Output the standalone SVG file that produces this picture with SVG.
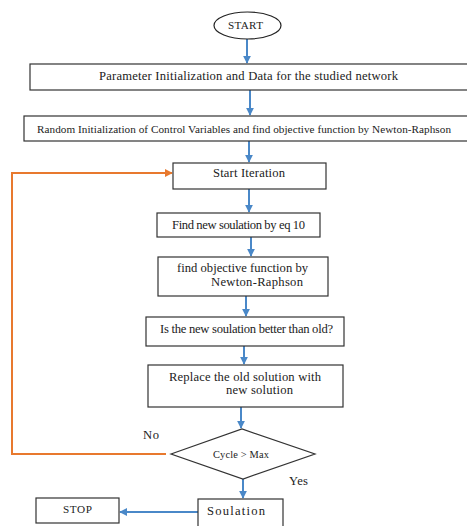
<svg xmlns="http://www.w3.org/2000/svg" width="467" height="526" viewBox="0 0 467 526">
<style>
.box{fill:#fff;stroke:#333;stroke-width:1.2}
.t{font-family:"Liberation Serif","DejaVu Serif",serif;font-size:12.6px;fill:#222}
.s{font-size:11.2px}
.b{stroke:#4a88c8;stroke-width:2;fill:none}
.o{stroke:#e8792e;stroke-width:2;fill:none}
</style>
<defs>
<marker id="ab" viewBox="0 0 10 10" refX="9" refY="5" markerWidth="4" markerHeight="4" orient="auto"><path d="M0,0 L10,5 L0,10 z" fill="#4a88c8"/></marker>
<marker id="ao" viewBox="0 0 10 10" refX="9" refY="5" markerWidth="4" markerHeight="4" orient="auto"><path d="M0,0 L10,5 L0,10 z" fill="#e8792e"/></marker>
</defs>
<rect width="467" height="526" fill="#fff"/>
<g id="connectors">
<line class="b" x1="247" y1="39" x2="247" y2="63" marker-end="url(#ab)"/>
<line class="b" x1="250" y1="90" x2="250" y2="115" marker-end="url(#ab)"/>
<line class="b" x1="249" y1="141" x2="249" y2="162" marker-end="url(#ab)"/>
<line class="b" x1="249" y1="189" x2="249" y2="212" marker-end="url(#ab)"/>
<line class="b" x1="251" y1="237" x2="251" y2="256" marker-end="url(#ab)"/>
<line class="b" x1="246" y1="296" x2="246" y2="316" marker-end="url(#ab)"/>
<line class="b" x1="244" y1="346" x2="244" y2="364" marker-end="url(#ab)"/>
<line class="b" x1="241" y1="407" x2="241" y2="428" marker-end="url(#ab)"/>
<line class="b" x1="243" y1="479" x2="243" y2="498" marker-end="url(#ab)"/>
<line class="b" x1="198" y1="512" x2="120" y2="512" marker-end="url(#ab)"/>
<polyline class="o" points="166,454 12,454 12,173 172,173" marker-end="url(#ao)"/>
<text class="t" x="143" y="439" textLength="16">No</text>
<text class="t" x="289" y="485" textLength="19">Yes</text>
</g>
<g id="start"><ellipse cx="247.5" cy="25.5" rx="33.5" ry="13.5" fill="#fff" stroke="#222" stroke-width="1.2"/><text class="t s" x="228" y="29" textLength="35">START</text></g>
<g id="param"><rect class="box" x="30" y="64" width="445" height="26"/><text class="t" x="99" y="80" textLength="299">Parameter Initialization and Data for the studied network</text></g>
<g id="random"><rect class="box" x="24" y="116" width="451" height="25"/><text class="t s" x="37" y="133" textLength="414">Random Initialization of Control Variables and find objective function by Newton-Raphson</text></g>
<g id="iter"><rect class="box" x="173" y="163" width="153" height="26"/><text class="t" x="213" y="177" textLength="72">Start Iteration</text></g>
<g id="findnew"><rect class="box" x="157" y="213" width="163" height="24"/><text class="t" x="172" y="229" textLength="133">Find new soulation by eq 10</text></g>
<g id="objective"><rect class="box" x="158" y="257" width="170" height="39"/><text class="t" x="177" y="272" textLength="131">find objective function by</text><text class="t" x="211" y="286" textLength="92">Newton-Raphson</text></g>
<g id="better"><rect class="box" x="146" y="317" width="198" height="29"/><text class="t" x="160" y="333" textLength="173">Is the new soulation better than old?</text></g>
<g id="replace"><rect class="box" x="148" y="365" width="195" height="42"/><text class="t" x="169" y="381" textLength="152">Replace the old solution with</text><text class="t" x="226" y="394" textLength="67">new solution</text></g>
<g id="cycle"><polygon points="171,454 242,429 315,454 243,479" fill="#fff" stroke="#333" stroke-width="1.2"/><text class="t" x="213" y="457.5" style="font-size:10.4px" textLength="56">Cycle &gt; Max</text></g>
<g id="soulation"><rect class="box" x="198" y="499" width="85" height="30"/><text class="t" x="207" y="515" textLength="58">Soulation</text></g>
<g id="stop"><rect class="box" x="36" y="498" width="83" height="25"/><text class="t s" x="63" y="513" textLength="29">STOP</text></g>
</svg>
